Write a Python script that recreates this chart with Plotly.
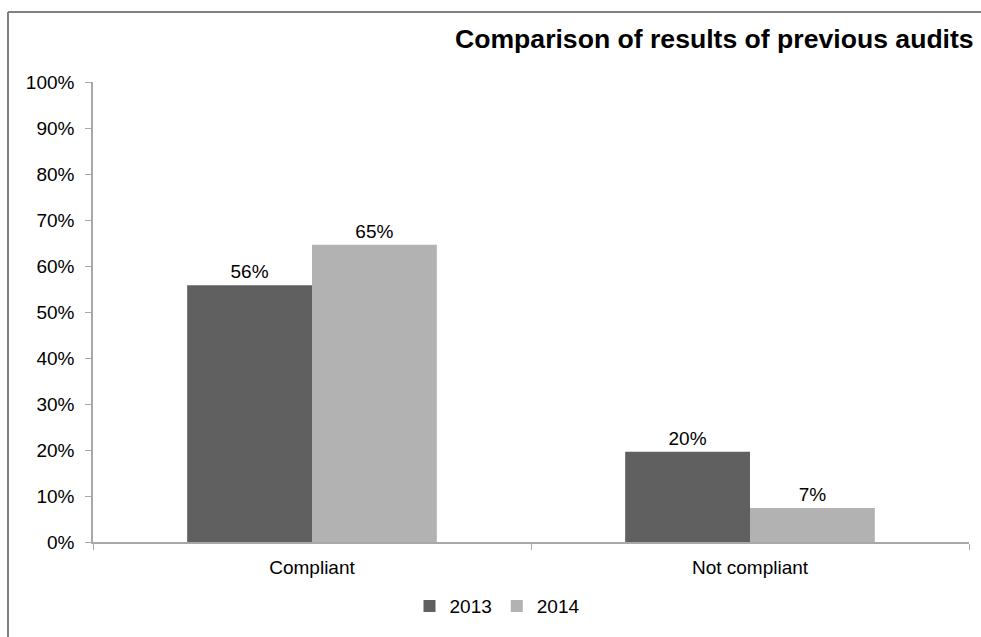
import plotly.graph_objects as go

categories = ["Compliant", "Not compliant"]
series_names = ["2013", "2014"]
values_2013 = [0.558, 0.196]
values_2014 = [0.646, 0.074]
series_colors = ["#606060", "#B2B2B2"]
title_text = "Comparison of results of previous audits"

FONT = "Arial, Liberation Sans, sans-serif"

W, H = 981, 637
L, R, T, B = 93, 12, 82, 89
pw = W - L - R
ph = H - T - B


def px_x(px):
    return (px - L) / pw


def px_y(py):
    return (H - B - py) / ph


fig = go.Figure()
for name, vals, col in zip(series_names, [values_2013, values_2014], series_colors):
    fig.add_trace(go.Bar(
        x=categories, y=vals, name=name,
        marker=dict(color=col, line=dict(width=0)),
        text=[f"{round(v * 100)}%" for v in vals],
        textposition="outside",
        textfont=dict(family=FONT, size=19, color="#000000"),
        cliponaxis=False,
    ))

fig.update_layout(
    width=W, height=H,
    margin=dict(l=L, r=R, t=T, b=B, pad=0),
    paper_bgcolor="white", plot_bgcolor="white",
    barmode="group", bargap=0.43, bargroupgap=0,
    font=dict(family=FONT, size=19, color="#000000"),
    showlegend=True,
    legend=dict(orientation="h", x=px_x(497), xanchor="center",
                y=px_y(613), yanchor="middle",
                font=dict(family=FONT, size=19, color="#000000"),
                itemwidth=30, bgcolor="rgba(0,0,0,0)"),
)
fig.update_xaxes(
    showline=True, linecolor="#A8A8A8", linewidth=1.5,
    ticks="outside", tickson="boundaries", ticklen=6, tickcolor="#A8A8A8",
    ticklabelstandoff=7,
    showgrid=False, zeroline=False,
    tickfont=dict(family=FONT, size=19, color="#000000"),
)
fig.update_yaxes(
    range=[0, 1], dtick=0.1, tickformat=".0%",
    showline=True, linecolor="#A8A8A8", linewidth=1.5,
    ticks="outside", ticklen=6, tickcolor="#A8A8A8",
    ticklabelstandoff=7,
    showgrid=False, zeroline=False,
    tickfont=dict(family=FONT, size=19, color="#000000"),
)

# title, placed at the right as in the reference
fig.add_annotation(
    text=f"<b>{title_text}</b>", xref="paper", yref="paper",
    x=px_x(453), y=px_y(38), xanchor="left", yanchor="middle",
    showarrow=False, font=dict(family=FONT, size=26.6, color="#000000"),
)

# outer chart border (top and left only visible)
fig.add_shape(type="line", xref="paper", yref="paper",
              x0=px_x(8), x1=px_x(W + 20), y0=px_y(11), y1=px_y(11),
              line=dict(color="#808080", width=2))
fig.add_shape(type="line", xref="paper", yref="paper",
              x0=px_x(8), x1=px_x(8), y0=px_y(11), y1=px_y(H + 20),
              line=dict(color="#808080", width=2))

fig.write_html("out.html")
